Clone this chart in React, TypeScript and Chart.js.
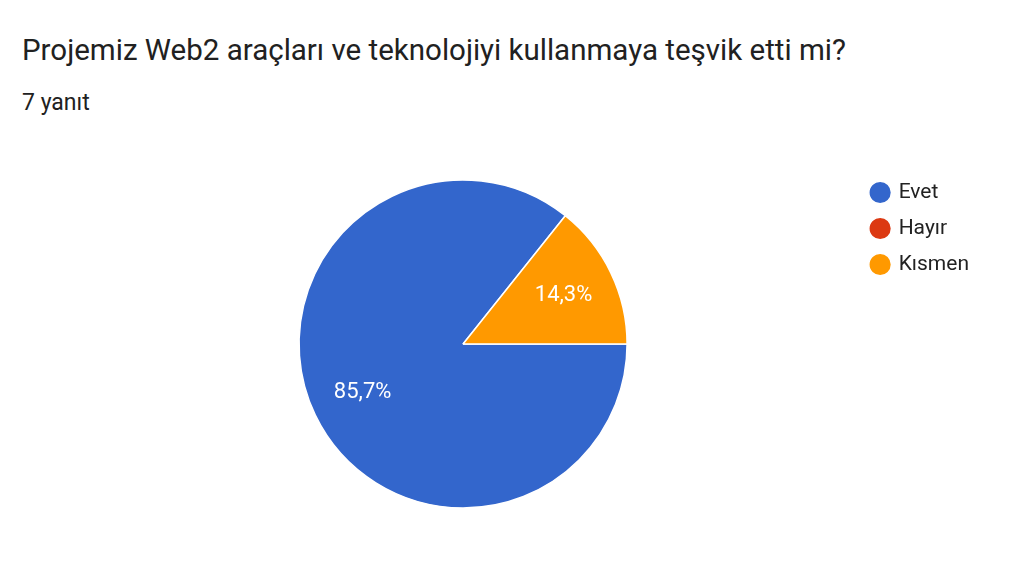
import React, { useEffect, useRef } from "react";
import { Chart, registerables } from "chart.js";

Chart.register(...registerables);

const titleText = "Projemiz Web2 araçları ve teknolojiyi kullanmaya teşvik etti mi?";
const subtitleText = "7 yanıt";
const categories = ["Evet", "Hayır", "Kısmen"];
const responses = [6, 0, 1];
const sliceColors = ["#3366cc", "#dc3912", "#ff9900"];

const pieLabels = {
  id: "pieLabels",
  afterDatasetsDraw(chart: any) {
    const meta = chart.getDatasetMeta(0);
    const data = chart.data.datasets[0].data as number[];
    const total = data.reduce((a, b) => a + b, 0);
    const ctx = chart.ctx;
    ctx.save();
    ctx.fillStyle = "#ffffff";
    ctx.font = "22px Roboto";
    ctx.textAlign = "center";
    ctx.textBaseline = "middle";
    meta.data.forEach((arc: any, i: number) => {
      const v = data[i];
      if (!v) return;
      const p = arc.getProps(["x", "y", "startAngle", "endAngle", "outerRadius"], true);
      const mid = (p.startAngle + p.endAngle) / 2;
      const r = p.outerRadius * 0.68;
      const txt = ((v / total) * 100).toFixed(1).replace(".", ",") + "%";
      ctx.fillText(txt, p.x + Math.cos(mid) * r, p.y + Math.sin(mid) * r);
    });
    ctx.restore();
  },
};

export default function App() {
  const ref = useRef<HTMLCanvasElement | null>(null);

  useEffect(() => {
    document.body.style.margin = "0";
    document.body.style.background = "#ffffff";
    Chart.defaults.font.family = "Roboto";
    const chart = new Chart(ref.current as HTMLCanvasElement, {
      type: "pie",
      data: {
        labels: categories,
        datasets: [
          {
            data: responses,
            backgroundColor: sliceColors,
            borderColor: "#ffffff",
            borderWidth: 1.5,
          },
        ],
      },
      options: {
        animation: false,
        responsive: false,
        rotation: 90,
        radius: 164,
        layout: { padding: { top: 167, bottom: 45, left: 69, right: 45 } },
        plugins: {
          legend: {
            position: "right",
            align: "start",
            labels: {
              usePointStyle: true,
              pointStyle: "circle",
              boxWidth: 16,
              boxHeight: 16,
              padding: 15,
              color: "#222222",
              font: { size: 21, family: "Roboto" },
            },
          },
          tooltip: { enabled: false },
        },
      },
      plugins: [pieLabels],
    });
    return () => chart.destroy();
  }, []);

  return (
    <div style={{ position: "relative", width: 1024, height: 566, background: "#fff", fontFamily: "Roboto" }}>
      <div style={{ position: "absolute", left: 22, top: 33, fontSize: 29.5, color: "#212121", whiteSpace: "nowrap" }}>
        {titleText}
      </div>
      <div style={{ position: "absolute", left: 22, top: 89, fontSize: 23, color: "#212121", whiteSpace: "nowrap" }}>
        {subtitleText}
      </div>
      <canvas ref={ref} width={1024} height={566} style={{ position: "absolute", left: 0, top: 0 }} />
    </div>
  );
}
